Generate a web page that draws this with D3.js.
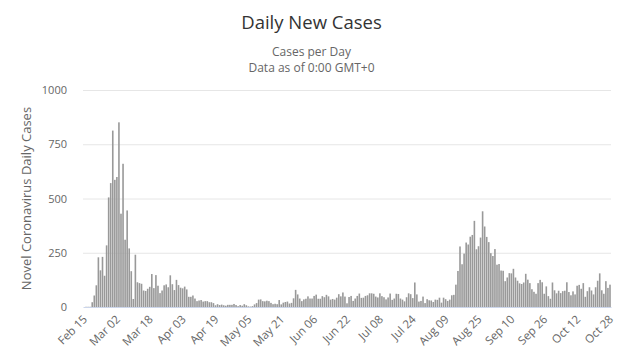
<!DOCTYPE html>
<html>
<head>
<meta charset="utf-8">
<script src="https://cdn.jsdelivr.net/npm/d3@7"></script>
<style>
  body { margin: 0; background: #fff; }
  text { font-family: "Segoe UI", "Open Sans", sans-serif; }
  .grid line { stroke: #e6e6e6; }
  .grid path { stroke: none; }
</style>
</head>
<body>
<div id="chart"></div>
<script>
// daily new cases, one array per month (first day Feb 15)
var febCases = [0, 1, 1, 1, 22, 53, 100, 229, 169, 231, 144, 284, 505, 571, 813];
var marCases = [586, 599, 851, 430, 660, 310, 445, 270, 165, 37, 241, 114, 110, 107, 76, 74, 84, 93, 152, 87, 147, 98, 64, 76, 100, 104, 91, 146, 105, 78, 125];
var aprCases = [101, 89, 86, 94, 81, 47, 47, 53, 39, 27, 30, 32, 25, 27, 27, 22, 22, 18, 8, 13, 9, 11, 8, 6, 10, 10, 10, 14, 9, 4];
var mayCases = [9, 6, 13, 8, 3, 2, 4, 12, 18, 34, 35, 27, 26, 29, 27, 19, 13, 15, 13, 32, 12, 20, 23, 25, 16, 19, 40, 79, 58, 39, 27];
var junCases = [35, 38, 49, 39, 39, 51, 57, 38, 38, 50, 45, 56, 49, 34, 37, 34, 43, 59, 49, 67, 48, 17, 46, 51, 28, 39, 51, 62, 42, 43];
var julCases = [51, 54, 63, 63, 61, 48, 44, 63, 50, 45, 35, 44, 62, 33, 39, 61, 60, 39, 34, 26, 45, 63, 59, 41, 113, 58, 25, 28, 48, 18, 36];
var augCases = [31, 30, 23, 34, 33, 43, 20, 43, 36, 28, 34, 54, 56, 103, 166, 279, 197, 246, 297, 288, 324, 332, 397, 266, 280, 320, 441, 371, 323, 299, 248];
var sepCases = [235, 267, 195, 198, 168, 167, 119, 136, 156, 155, 176, 136, 121, 109, 106, 113, 153, 126, 110, 82, 70, 61, 110, 125, 114, 61, 95, 50, 38, 113];
var octCases = [77, 63, 75, 64, 73, 75, 114, 69, 54, 72, 58, 98, 102, 84, 110, 47, 73, 91, 76, 58, 91, 121, 155, 77, 61, 119, 88, 103];

var yTicks = [0, 250, 500, 750, 1000];
var tickEvery = 16;

var cases = [].concat(febCases, marCases, aprCases, mayCases, junCases, julCases, augCases, sepCases, octCases);
var fmt = d3.timeFormat("%b %d");
var days = d3.timeDay.range(new Date(2020, 1, 15), new Date(2020, 9, 29)).map(fmt);
var data = days.map(function (d, i) { return { day: d, value: cases[i] }; });

var width = 625, height = 353;
var margin = { top: 90, right: 14, bottom: 46, left: 83 };
var w = width - margin.left - margin.right;
var h = height - margin.top - margin.bottom;

var svg = d3.select("#chart").append("svg")
    .attr("width", width)
    .attr("height", height);

// titles
svg.append("text")
    .attr("x", width / 2 - 1).attr("y", 29)
    .attr("text-anchor", "middle")
    .style("font-size", "18.5px").style("fill", "#333333")
    .text("Daily New Cases");
svg.append("text")
    .attr("x", width / 2 - 1).attr("y", 56)
    .attr("text-anchor", "middle")
    .style("font-size", "12px").style("fill", "#666666")
    .text("Cases per Day");
svg.append("text")
    .attr("x", width / 2 - 1).attr("y", 72)
    .attr("text-anchor", "middle")
    .style("font-size", "12px").style("fill", "#666666")
    .text("Data as of 0:00 GMT+0");

var g = svg.append("g")
    .attr("transform", "translate(" + margin.left + "," + margin.top + ")");

var x = d3.scaleBand()
    .domain(days)
    .range([0, w])
    .paddingInner(0.22)
    .paddingOuter(0.1);

var y = d3.scaleLinear()
    .domain([0, 1000])
    .range([h, 0]);

// gridlines
g.append("g")
    .attr("class", "grid")
    .call(d3.axisLeft(y).tickValues(yTicks.slice(1)).tickSize(-w).tickFormat(""));

// y labels
var yAxis = g.append("g")
    .call(d3.axisLeft(y).tickValues(yTicks).tickSize(0).tickPadding(16).tickFormat(d3.format("d")));
yAxis.select(".domain").remove();
yAxis.selectAll("text")
    .style("font-size", "11px").style("fill", "#666666")
    .attr("font-family", null);

svg.append("text")
    .attr("transform", "translate(31," + (margin.top + h / 2) + ") rotate(-90)")
    .attr("text-anchor", "middle")
    .style("font-size", "13px").style("fill", "#666666")
    .text("Novel Coronavirus Daily Cases");

// bars
g.selectAll(".bar")
    .data(data)
    .enter().append("rect")
    .attr("class", "bar")
    .attr("x", function (d) { return x(d.day); })
    .attr("width", x.bandwidth())
    .attr("y", function (d) { return y(d.value); })
    .attr("height", function (d) { return h - y(d.value); })
    .style("fill", "#999999");

// x axis
var xAxis = g.append("g")
    .attr("transform", "translate(0," + h + ")")
    .call(d3.axisBottom(x)
        .tickValues(days.filter(function (d, i) { return i % tickEvery === 0; }))
        .tickSize(0)
        .tickPadding(0));
xAxis.select(".domain").attr("stroke", "#ccd6eb");
xAxis.selectAll("text")
    .attr("font-family", null)
    .style("font-size", "11.5px").style("fill", "#666666")
    .attr("text-anchor", "end")
    .attr("dy", null).attr("y", null)
    .attr("transform", "translate(4,13) rotate(-45)");
</script>
</body>
</html>
